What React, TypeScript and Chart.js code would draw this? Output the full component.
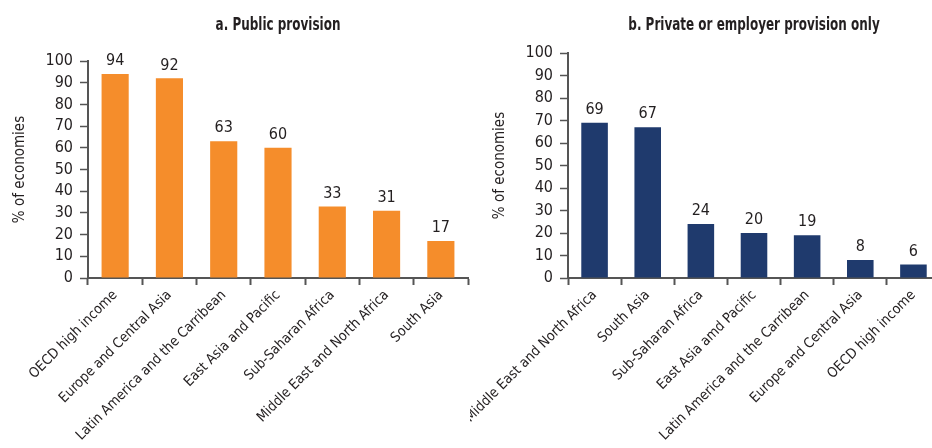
import React, { useEffect, useRef } from "react";
import { Chart, registerables } from "chart.js";

Chart.register(...registerables);

const FONT = "'Liberation Sans Narrow', 'DejaVu Sans Condensed', 'Roboto Condensed', sans-serif";

const categoriesA = [
  "OECD high income",
  "Europe and Central Asia",
  "Latin America and the Carribean",
  "East Asia and Pacific",
  "Sub-Saharan Africa",
  "Middle East and North Africa",
  "South Asia",
];
const valuesA = [94, 92, 63, 60, 33, 31, 17];

const categoriesB = [
  "Middle East and North Africa",
  "South Asia",
  "Sub-Saharan Africa",
  "East Asia amd Pacific",
  "Latin America and the Carribean",
  "Europe and Central Asia",
  "OECD high income",
];
const valuesB = [69, 67, 24, 20, 19, 8, 6];

const titleA = "a. Public provision";
const titleB = "b. Private or employer provision only";
const yTitle = "% of economies";
const yTicks = [0, 10, 20, 30, 40, 50, 60, 70, 80, 90, 100];

type PanelProps = {
  labels: string[];
  values: number[];
  color: string;
  title: string;
  left: number;
  width: number;
  yAxisWidth: number;
  topPad: number;
  yTitlePad: number;
};

function Panel(p: PanelProps) {
  const ref = useRef<HTMLCanvasElement | null>(null);
  useEffect(() => {
    if (!ref.current) return;
    const axisColor = "#555555";
    const textColor = "#231f20";
    const chart = new Chart(ref.current, {
      type: "bar",
      data: {
        labels: p.labels,
        datasets: [
          {
            data: p.values,
            backgroundColor: p.color,
            barPercentage: 0.5,
            categoryPercentage: 1,
          },
        ],
      },
      options: {
        responsive: false,
        animation: false,
        layout: { padding: { top: p.topPad, right: 2, bottom: 0, left: 0 } },
        plugins: {
          legend: { display: false },
          tooltip: { enabled: false },
        },
        scales: {
          x: {
            grid: {
              offset: true,
              drawOnChartArea: false,
              drawTicks: true,
              tickLength: 7,
              tickWidth: 2,
              tickColor: axisColor,
            },
            border: { display: true, color: axisColor, width: 2 },
            ticks: {
              autoSkip: false,
              minRotation: 45,
              maxRotation: 45,
              color: textColor,
              padding: 2,
              font: { family: FONT, size: 14 },
            },
            afterFit: (s: any) => {
              s.height = 170;
              s.paddingLeft = 0;
              s.paddingRight = 0;
            },
          },
          y: {
            min: 0,
            max: 100,
            afterBuildTicks: (s: any) => {
              s.ticks = yTicks.map((v) => ({ value: v }));
            },
            grid: {
              drawOnChartArea: false,
              drawTicks: true,
              tickLength: 8,
              tickWidth: 1.5,
              tickColor: axisColor,
            },
            border: { display: true, color: axisColor, width: 2 },
            ticks: {
              autoSkip: false,
              color: textColor,
              padding: 7,
              font: { family: FONT, size: 16 },
            },
            title: {
              display: true,
              text: yTitle,
              color: textColor,
              font: { family: FONT, size: 15 },
              padding: { top: p.yTitlePad, bottom: 0 },
            },
            afterFit: (s: any) => {
              s.width = p.yAxisWidth;
            },
          },
        },
      },
      plugins: [
        {
          id: "extras",
          afterDatasetsDraw(c: any) {
            const ctx = c.ctx;
            const meta = c.getDatasetMeta(0);
            ctx.save();
            ctx.fillStyle = textColor;
            ctx.font = `16px ${FONT}`;
            ctx.textAlign = "center";
            ctx.textBaseline = "bottom";
            meta.data.forEach((bar: any, i: number) => {
              ctx.fillText(String(p.values[i]), bar.x, bar.y - 5);
            });
            ctx.restore();
            ctx.save();
            ctx.fillStyle = textColor;
            ctx.font = `bold 18px ${FONT}`;
            ctx.textAlign = "center";
            ctx.textBaseline = "middle";
            const ca = c.chartArea;
            const cx = (ca.left + ca.right) / 2;
            const sx = 0.74;
            ctx.translate(cx, 25);
            ctx.scale(sx, 1);
            ctx.fillText(p.title, 0, 0);
            ctx.restore();
          },
        },
      ],
    } as any);
    return () => chart.destroy();
  }, []);
  return (
    <canvas
      ref={ref}
      width={p.width}
      height={448}
      style={{ position: "absolute", left: p.left, top: 0, display: "block" }}
    />
  );
}

export default function App() {
  return (
    <div
      style={{
        position: "fixed",
        left: 0,
        top: 0,
        width: 932,
        height: 448,
        overflow: "hidden",
        background: "#ffffff",
      }}
    >
      <Panel
        labels={categoriesA}
        values={valuesA}
        color="#F58D2B"
        title={titleA}
        left={0}
        width={470}
        yAxisWidth={88}
        topPad={61}
        yTitlePad={11}
      />
      <Panel
        labels={categoriesB}
        values={valuesB}
        color="#1F3A6D"
        title={titleB}
        left={470}
        width={472}
        yAxisWidth={98}
        topPad={53}
        yTitlePad={21}
      />
    </div>
  );
}
